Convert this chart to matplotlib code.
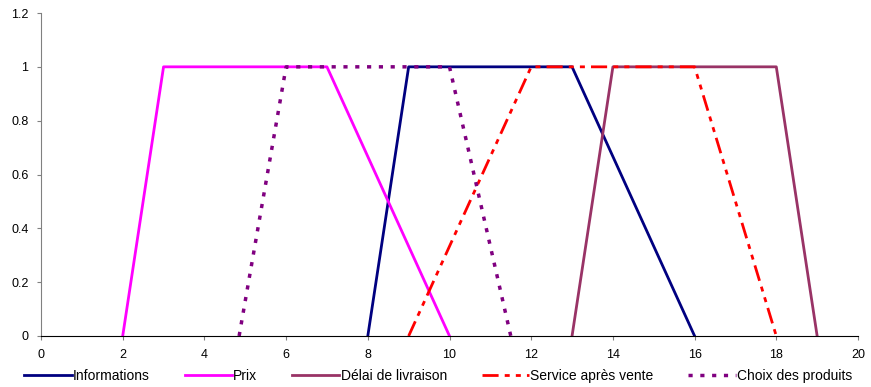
import matplotlib
matplotlib.use('Agg')
import matplotlib.pyplot as plt

# trapezoidal membership functions
info_x = [8, 9, 13, 16]
info_y = [0, 1, 1, 0]
prix_x = [2, 3, 7, 10]
prix_y = [0, 1, 1, 0]
delai_x = [13, 14, 18, 19]
delai_y = [0, 1, 1, 0]
sav_x = [9, 12, 16, 18]
sav_y = [0, 1, 1, 0]
choix_x = [4.85, 6, 10, 11.5]
choix_y = [0, 1, 1, 0]

plt.rcParams['font.family'] = ['Liberation Sans', 'DejaVu Sans']
plt.rcParams['font.size'] = 9

fig = plt.figure(figsize=(8.71, 3.87), dpi=100)
ax = fig.add_axes([41 / 871, 1 - 336 / 387, (858 - 41) / 871, (336 - 13) / 387])

ax.plot(info_x, info_y, color='#000080', lw=2, label='Informations')
ax.plot(prix_x, prix_y, color='#ff00ff', lw=2, label='Prix')
ax.plot(delai_x, delai_y, color='#993366', lw=2, label='Délai de livraison')
ax.plot(sav_x, sav_y, color='#ff0000', lw=2, dashes=(5.8, 2.2, 1.8, 2.2, 1.8, 2.2),
        label='Service après vente')
ax.plot(choix_x, choix_y, color='#800080', lw=2.5, dashes=(1.2, 2.2), label='Choix des produits')

ax.set_xlim(0, 20)
ax.set_ylim(0, 1.2)
ax.set_xticks(range(0, 21, 2))
ax.set_yticks([0, 0.2, 0.4, 0.6, 0.8, 1, 1.2])
ax.set_yticklabels(['0', '0.2', '0.4', '0.6', '0.8', '1', '1.2'])
ax.spines['top'].set_visible(False)
ax.spines['right'].set_visible(False)
ax.spines['left'].set_color('gray')
ax.tick_params(direction='out', length=3, color='gray', pad=6)

ax.legend(loc='upper left', bbox_to_anchor=(-0.027, -0.085), ncol=5, frameon=False,
          handlelength=3.4, handletextpad=0.1, columnspacing=2.5, fontsize=10,
          borderaxespad=0)

fig.savefig('out.png', dpi=100)
